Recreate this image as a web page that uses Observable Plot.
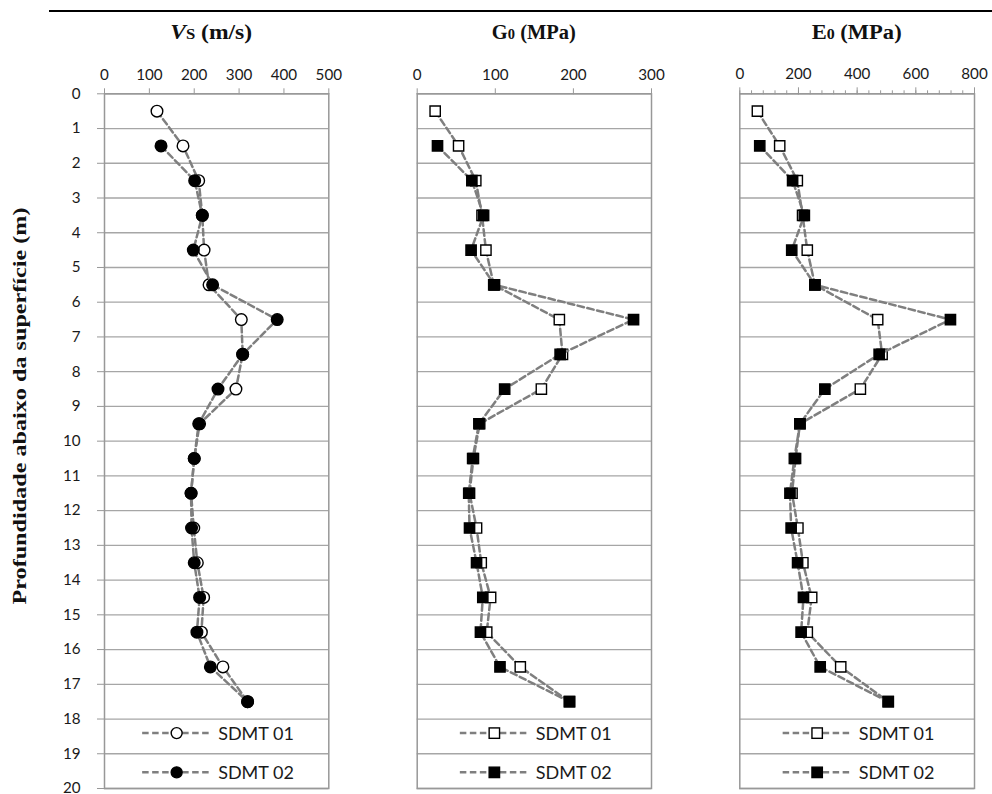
<!DOCTYPE html>
<html>
<head>
<meta charset="utf-8">
<script src="https://cdn.jsdelivr.net/npm/d3@7"></script>
<script src="https://cdn.jsdelivr.net/npm/@observablehq/plot@0.6"></script>
<style>
  body { margin: 0; background: #fff; }
  #wrap { position: relative; width: 992px; height: 794px; overflow: hidden; font-family: Lato, sans-serif; }
  #wrap > svg { position: absolute; left: 0; top: 0; }
</style>
</head>
<body>
<div id="wrap"></div>
<script>
// ---------- data ----------
const depth01 = [0.5, 1.5, 2.5, 3.5, 4.5, 5.5, 6.5, 7.5, 8.5, 9.5, 10.5, 11.5, 12.5, 13.5, 14.5, 15.5, 16.5, 17.5];
const depth02 = [1.5, 2.5, 3.5, 4.5, 5.5, 6.5, 7.5, 8.5, 9.5, 10.5, 11.5, 12.5, 13.5, 14.5, 15.5, 16.5, 17.5];

const vs01 = [117, 175, 210, 218, 222, 233, 305, 308, 293, 212, 200, 193, 199, 207, 221, 216, 264, 319];
const vs02 = [126, 201, 218, 198, 241, 385, 308, 253, 210, 200, 193, 194, 200, 212, 206, 236, 319];

const g01 = [23, 53, 75, 83, 88, 98, 182, 186, 159, 80, 72, 67, 76, 82, 94, 89, 132, 195];
const g02 = [26, 70, 85, 69, 99, 277, 183, 112, 79, 71, 66, 67, 76, 84, 81, 106, 195];

const e01 = [60, 136, 196, 214, 230, 256, 470, 485, 411, 205, 190, 178, 198, 215, 245, 230, 344, 506];
const e02 = [68, 180, 220, 177, 256, 718, 475, 290, 205, 186, 171, 175, 197, 217, 209, 274, 506];

const seriesNames = ["SDMT 01", "SDMT 02"];
const depthTicks = [0, 1, 2, 3, 4, 5, 6, 7, 8, 9, 10, 11, 12, 13, 14, 15, 16, 17, 18, 19, 20];
const vsTicks = [0, 100, 200, 300, 400, 500];
const gTicks = [0, 100, 200, 300];
const eTicks = [0, 200, 400, 600, 800];
const eMinorTicks = d3.range(0, 801, 40);
const yTitle = "Profundidade abaixo da superfície (m)";

// ---------- layout ----------
const W = 992, H = 794;
const top0 = 93.3, bottom0 = 788;
const frames = [[104, 328.3], [416.7, 651], [739.3, 974]];
const GRID = "#a6a6a6", FRAME = "#989898", LINE = "#7f7f7f";
const TICKFONT = "15.2px";

const panels = [
  {domain: [0, 500], ticks: vsTicks, v01: vs01, v02: vs02, symbol: "circle", r: 5.8, yAxis: true,
   title: [{t: "V", italic: true}, {t: "S", small: true}, {t: " (m/s)"}], tlen: 82},
  {domain: [0, 300], ticks: gTicks, v01: g01, v02: g02, symbol: "square", r: 5.8,
   title: [{t: "G"}, {t: "0", small: true}, {t: " (MPa)"}], tlen: 84},
  {domain: [0, 800], ticks: eTicks, minor: eMinorTicks, v01: e01, v02: e02, symbol: "square", r: 5.8,
   title: [{t: "E"}, {t: "0", small: true}, {t: " (MPa)"}], tlen: 90}
];

const wrap = document.getElementById("wrap");
const NS = "http://www.w3.org/2000/svg";
const overlay = document.createElementNS(NS, "svg");
overlay.setAttribute("width", W);
overlay.setAttribute("height", H);

function el(name, attrs, parent) {
  const e = document.createElementNS(NS, name);
  for (const k in attrs) e.setAttribute(k, attrs[k]);
  if (parent) parent.appendChild(e);
  return e;
}

panels.forEach((cfg, i) => {
  const [fl, fr] = frames[i];
  const s1 = depth01.map((d, j) => ({d, v: cfg.v01[j], s: seriesNames[0]}));
  const s2 = depth02.map((d, j) => ({d, v: cfg.v02[j], s: seriesNames[1]}));
  const marks = [
    Plot.ruleY(depthTicks, {stroke: GRID, strokeWidth: 1.3}),
    Plot.frame({stroke: FRAME, strokeWidth: 1.5})
  ];
  if (cfg.minor) {
    marks.push(Plot.axisX({anchor: "top", ticks: cfg.minor, tickSize: 4, tickFormat: () => "", stroke: FRAME, label: null}));
  }
  marks.push(Plot.axisX({anchor: "top", ticks: cfg.ticks, tickSize: cfg.minor ? 7 : 6, tickPadding: 8,
    label: null, stroke: FRAME, fill: "#1a1a1a"}));
  if (cfg.yAxis) {
    marks.push(Plot.axisY({ticks: depthTicks, tickSize: 7, tickPadding: 17, label: null,
      stroke: FRAME, fill: "#1a1a1a"}));
  }
  marks.push(
    Plot.line(s1, {x: "v", y: "d", stroke: LINE, strokeWidth: 2.5, strokeDasharray: "6.5,3.5"}),
    Plot.dot(s1, {x: "v", y: "d", symbol: cfg.symbol, r: cfg.r, fill: "white", stroke: "black", strokeWidth: 1.4}),
    Plot.line(s2, {x: "v", y: "d", stroke: LINE, strokeWidth: 2.5, strokeDasharray: "6.5,3.5"}),
    Plot.dot(s2, {x: "v", y: "d", symbol: cfg.symbol, r: cfg.r, fill: "black", stroke: "black", strokeWidth: 1.4})
  );
  const chart = Plot.plot({
    width: W, height: H,
    marginLeft: fl, marginRight: W - fr, marginTop: top0, marginBottom: H - bottom0,
    x: {domain: cfg.domain},
    y: {domain: [0, 20], reverse: true, axis: cfg.yAxis ? undefined : null},
    style: {background: "transparent", fontFamily: "Lato, sans-serif", fontSize: TICKFONT, color: "#1a1a1a", overflow: "visible"},
    marks
  });
  chart.querySelectorAll("text, g").forEach(t => { t.style.fontSize = TICKFONT; t.style.fontFamily = "Lato, sans-serif"; });
  wrap.appendChild(chart);

  // title
  const cx = (fl + fr) / 2;
  const tt = el("text", {x: cx - (i === 0 ? 5 : 0), y: 39, "text-anchor": "middle", "font-family": "Liberation Serif, Times New Roman, serif",
    "font-weight": "bold", "font-size": 20.5, fill: "#111", textLength: cfg.tlen, lengthAdjust: "spacingAndGlyphs"}, overlay);
  cfg.title.forEach(p => {
    const ts = el("tspan", {}, tt);
    if (p.italic) ts.setAttribute("font-style", "italic");
    if (p.small) ts.setAttribute("font-size", 14.5);
    ts.textContent = p.t;
  });

  // legend (inside the plot area, two rows)
  const ys = chart.scale("y");
  const rows = [ys.apply(18.42), ys.apply(19.55)];
  const blockW = 152;
  const x0 = cx - blockW / 2 + 2;
  seriesNames.forEach((name, k) => {
    const y = rows[k];
    el("line", {x1: x0, x2: x0 + 69, y1: y, y2: y, stroke: LINE, "stroke-width": 2.5, "stroke-dasharray": "6.5,3.5"}, overlay);
    const mx = x0 + 34.5;
    const fill = k === 0 ? "white" : "black";
    if (cfg.symbol === "circle") {
      el("circle", {cx: mx, cy: y, r: 5.5, fill, stroke: "black", "stroke-width": 1.4}, overlay);
    } else {
      el("rect", {x: mx - 5.2, y: y - 5.2, width: 10.4, height: 10.4, fill, stroke: "black", "stroke-width": 1.4}, overlay);
    }
    const t = el("text", {x: x0 + 76, y: y, "dominant-baseline": "central", "font-family": "Lato, sans-serif",
      "font-size": 18, fill: "#1a1a1a"}, overlay);
    t.textContent = name;
  });
});

// y-axis title
const yt = el("text", {transform: "translate(19,406) rotate(-90)", "text-anchor": "middle", "dominant-baseline": "central",
  "font-family": "Liberation Serif, Times New Roman, serif", "font-weight": "bold", "font-size": 19.5, fill: "#111",
  textLength: 397, lengthAdjust: "spacingAndGlyphs"}, overlay);
yt.textContent = yTitle;

// top rule
el("line", {x1: 49, x2: W, y1: 11, y2: 11, stroke: "#000", "stroke-width": 2.2}, overlay);

wrap.appendChild(overlay);
</script>
</body>
</html>
